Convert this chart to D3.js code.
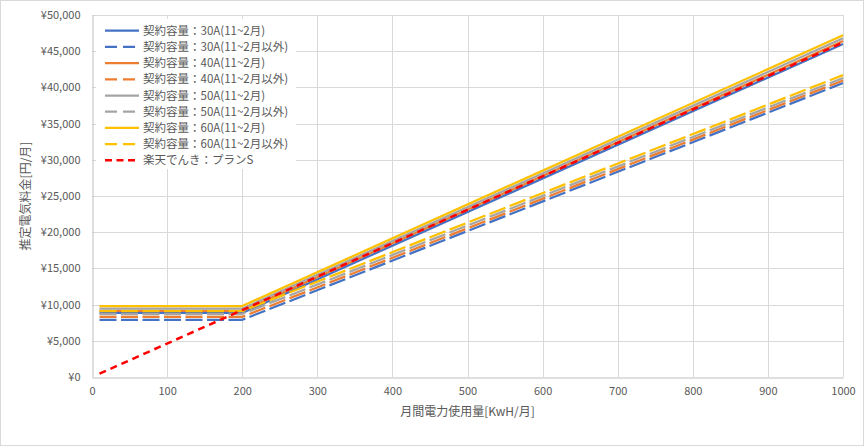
<!DOCTYPE html>
<html><head><meta charset="utf-8">
<script src="https://cdn.jsdelivr.net/npm/d3@7"></script>
<style>
html,body{margin:0;padding:0;background:#fff;}
svg{display:block;font-family:"Noto Sans CJK JP","Noto Sans",sans-serif;}
</style></head>
<body>
<svg id="chart" width="864" height="446"></svg>
<script>
// ---- data ----
const usage = [10, 200, 1000];               // kWh/月
const seriesNames = [
  "契約容量：30A(11~2月)", "契約容量：30A(11~2月以外)",
  "契約容量：40A(11~2月)", "契約容量：40A(11~2月以外)",
  "契約容量：50A(11~2月)", "契約容量：50A(11~2月以外)",
  "契約容量：60A(11~2月)", "契約容量：60A(11~2月以外)",
  "楽天でんき：プランS"
];
const c30w = [8850, 8850, 46000];
const c30o = [7900, 7900, 40600];
const c40w = [9150, 9150, 46400];
const c40o = [8300, 8300, 40950];
const c50w = [9450, 9450, 46800];
const c50o = [8700, 8700, 41300];
const c60w = [9800, 9800, 47200];
const c60o = [9100, 9100, 41700];
const rakuten = [460, 9240, 46200];
const xTicks = [0,100,200,300,400,500,600,700,800,900,1000];
const yTicks = [0,5000,10000,15000,20000,25000,30000,35000,40000,45000,50000];
const xTitle = "月間電力使用量[KwH/月]";
const yTitle = "推定電気料金[円/月]";

const seriesValues = [c30w, c30o, c40w, c40o, c50w, c50o, c60w, c60o, rakuten];
const colors = ["#4472C4","#4472C4","#ED7D31","#ED7D31","#A5A5A5","#A5A5A5","#FFC000","#FFC000","#FF0000"];
const dashes = [null,"17,4.5",null,"17,4.5",null,"17,4.5",null,"17,4.5","7,5"];
const widths = [2.25,2.25,2.25,2.25,2.25,2.25,2.25,2.25,2.5];

const svg = d3.select("#chart");
const W = 864, H = 446;
const L = 92, R = 843, T = 15, B = 377;

svg.append("rect").attr("x",0.5).attr("y",0.5).attr("width",W-1).attr("height",H-1)
  .attr("fill","#fff").attr("stroke","#d9d9d9");

const x = d3.scaleLinear().domain([0,1000]).range([L,R]);
const y = d3.scaleLinear().domain([0,50000]).range([B,T]);

// gridlines
const g = svg.append("g");
g.selectAll("line.hg").data(yTicks.filter(d=>d>0)).join("line")
  .attr("x1",L).attr("x2",R).attr("y1",d=>Math.round(y(d))+0.5).attr("y2",d=>Math.round(y(d))+0.5)
  .attr("stroke","#d9d9d9").attr("stroke-width",1);
g.selectAll("line.vg").data(xTicks.filter(d=>d>0)).join("line")
  .attr("y1",T).attr("y2",B).attr("x1",d=>Math.round(x(d))+0.5).attr("x2",d=>Math.round(x(d))+0.5)
  .attr("stroke","#d9d9d9").attr("stroke-width",1);

// axes
const xAxis = d3.axisBottom(x).tickValues(xTicks).tickSize(0).tickPadding(10).tickFormat(d3.format("d"));
const yAxis = d3.axisLeft(y).tickValues(yTicks).tickSize(0).tickPadding(12)
  .tickFormat(d=>"¥"+d3.format(",")(d));
const gx = svg.append("g").attr("transform",`translate(0,${Math.round(B)+0.5})`).call(xAxis);
const gy = svg.append("g").attr("transform",`translate(${L+0.5},0)`).call(yAxis);
[gx,gy].forEach(a=>{
  a.select(".domain").attr("stroke","#bfbfbf");
  a.selectAll("text").attr("fill","#595959").attr("font-size","11px")
   .attr("font-family","'Noto Sans CJK JP',sans-serif");
});

// lines
const line = d3.line().x((d,i)=>x(usage[i])).y(d=>y(d));
seriesValues.forEach((vals,k)=>{
  svg.append("path").datum(vals).attr("d",line)
    .attr("fill","none").attr("stroke",colors[k]).attr("stroke-width",widths[k])
    .attr("stroke-dasharray",dashes[k]).attr("stroke-linejoin","round");
});

// legend
const lg = svg.append("g");
lg.append("rect").attr("x",96).attr("y",19).attr("width",200).attr("height",150).attr("fill","#fff");
seriesNames.forEach((name,k)=>{
  const yy = 30.7 + k*16.2;
  lg.append("line").attr("x1",105).attr("x2",139).attr("y1",yy).attr("y2",yy)
    .attr("stroke",colors[k]).attr("stroke-width",widths[k])
    .attr("stroke-dasharray",k===8?"7,4.5":(dashes[k]?"12,6":null));
  lg.append("text").attr("x",143).attr("y",yy).attr("dy","0.35em")
    .attr("font-size","11.5px").attr("fill","#595959").text(name);
});

// titles
svg.append("text").attr("x",(L+R)/2).attr("y",412).attr("dy","0.35em").attr("text-anchor","middle")
  .attr("font-size","12px").attr("fill","#595959").text(xTitle);
svg.append("text").attr("transform",`translate(26,${(T+B)/2}) rotate(-90)`).attr("dy","0.35em")
  .attr("text-anchor","middle").attr("font-size","12px").attr("fill","#595959").text(yTitle);
</script>
</body></html>
